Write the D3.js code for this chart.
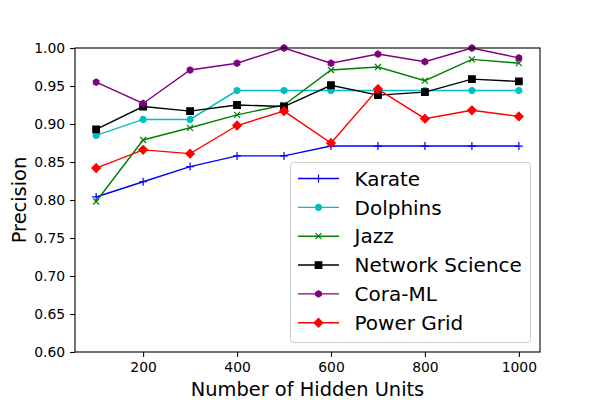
<!DOCTYPE html>
<html><head><meta charset="utf-8">
<script src="https://cdn.jsdelivr.net/npm/d3@7"></script>
<style>body{margin:0;background:#fff}text{font-family:"DejaVu Sans",sans-serif;fill:#000}</style>
</head><body><svg id="c" width="600" height="400"></svg>
<script>
const hiddenUnits = [100,200,300,400,500,600,700,800,900,1000];
const karate   = [0.804,0.824,0.844,0.858,0.858,0.871,0.871,0.871,0.871,0.871];
const dolphins = [0.885,0.906,0.906,0.944,0.944,0.944,0.944,0.944,0.944,0.944];
const jazz     = [0.798,0.879,0.895,0.912,0.925,0.971,0.975,0.957,0.985,0.980];
const netsci   = [0.893,0.923,0.917,0.925,0.923,0.951,0.938,0.942,0.959,0.956];
const coraml   = [0.955,0.927,0.971,0.980,1.000,0.980,0.992,0.982,1.000,0.987];
const powergrid= [0.842,0.866,0.861,0.898,0.917,0.875,0.946,0.907,0.918,0.910];
const xTicks = [200,400,600,800,1000];
const yTicks = [0.60,0.65,0.70,0.75,0.80,0.85,0.90,0.95,1.00];

const series = [
  {name:"Karate", values:karate, color:"#0000ff", marker:"plus"},
  {name:"Dolphins", values:dolphins, color:"#00bfbf", marker:"circle"},
  {name:"Jazz", values:jazz, color:"#008000", marker:"x"},
  {name:"Network Science", values:netsci, color:"#000000", marker:"square"},
  {name:"Cora-ML", values:coraml, color:"#800080", marker:"hexagon"},
  {name:"Power Grid", values:powergrid, color:"#ff0000", marker:"diamond"}
];

const svg = d3.select("#c");
const L=75, R=540, T=48, B=352;
const x = d3.scaleLinear().domain([55,1045]).range([L,R]);
const y = d3.scaleLinear().domain([0.60,1.00]).range([B,T]);

function markerPath(type){
  switch(type){
    case "plus": return "M-4,0H4M0,-4V4";
    case "x": return "M-3,-3L3,3M-3,3L3,-3";
    case "circle": return "M3,0A3,3 0 1,1 -3,0A3,3 0 1,1 3,0Z";
    case "square": return "M-3.3,-3.3H3.3V3.3H-3.3Z";
    case "hexagon": {
      const r=3.2; let p="";
      for(let i=0;i<6;i++){const a=Math.PI/2+i*Math.PI/3;p+=(i?"L":"M")+(r*Math.cos(a)).toFixed(2)+","+(-r*Math.sin(a)).toFixed(2);}
      return p+"Z";
    }
    case "diamond": return "M0,-4.3L4.3,0L0,4.3L-4.3,0Z";
  }
}
function drawMarker(g, s, cx, cy){
  const filled = !(s.marker==="plus"||s.marker==="x");
  g.append("path").attr("d",markerPath(s.marker))
   .attr("transform",`translate(${cx},${cy})`)
   .attr("fill",filled?s.color:"none")
   .attr("stroke",s.color).attr("stroke-width",1.2);
}

const plot = svg.append("g");
const line = d3.line().x((d,i)=>x(hiddenUnits[i])).y(d=>y(d));
series.forEach(s=>{
  const g = plot.append("g");
  g.append("path").attr("d",line(s.values)).attr("fill","none")
   .attr("stroke",s.color).attr("stroke-width",1.4);
  s.values.forEach((v,i)=>drawMarker(g,s,x(hiddenUnits[i]),y(v)));
});

// axes
const xAxis = d3.axisBottom(x).tickValues(xTicks).tickSize(4.9).tickPadding(4.9).tickFormat(d3.format("d"));
const yAxis = d3.axisLeft(y).tickValues(yTicks).tickSize(4.9).tickPadding(4.9).tickFormat(d3.format(".2f"));
const gx = svg.append("g").attr("transform",`translate(0,${B})`).call(xAxis);
const gy = svg.append("g").attr("transform",`translate(${L},0)`).call(yAxis);
[gx,gy].forEach(g=>{
  g.select(".domain").remove();
  g.selectAll("line").attr("stroke","#000").attr("stroke-width",1.1);
  g.selectAll("text").attr("font-size","13.9px").attr("font-family","DejaVu Sans").attr("fill","#000");
});
svg.append("rect").attr("x",L).attr("y",T).attr("width",R-L).attr("height",B-T)
  .attr("fill","none").attr("stroke","#000").attr("stroke-width",1.1);

svg.append("text").attr("x",(L+R)/2).attr("y",396).attr("text-anchor","middle")
  .attr("font-size","19.4px").text("Number of Hidden Units");
svg.append("text").attr("transform",`translate(26,${(T+B)/2}) rotate(-90)`).attr("text-anchor","middle")
  .attr("font-size","19.4px").text("Precision");

// legend
const lg = svg.append("g");
lg.append("rect").attr("x",290.5).attr("y",162.5).attr("width",240).attr("height",180).attr("rx",3)
  .attr("fill","#fff").attr("fill-opacity",0.8).attr("stroke","#cccccc").attr("stroke-width",1);
series.forEach((s,i)=>{
  const cy = 178.5 + i*28.85;
  lg.append("line").attr("x1",298).attr("x2",339).attr("y1",cy).attr("y2",cy)
    .attr("stroke",s.color).attr("stroke-width",1.4);
  drawMarker(lg,s,318.5,cy);
  lg.append("text").attr("x",354.5).attr("y",cy).attr("dy","0.36em")
    .attr("font-size","20px").text(s.name);
});
</script></body></html>
